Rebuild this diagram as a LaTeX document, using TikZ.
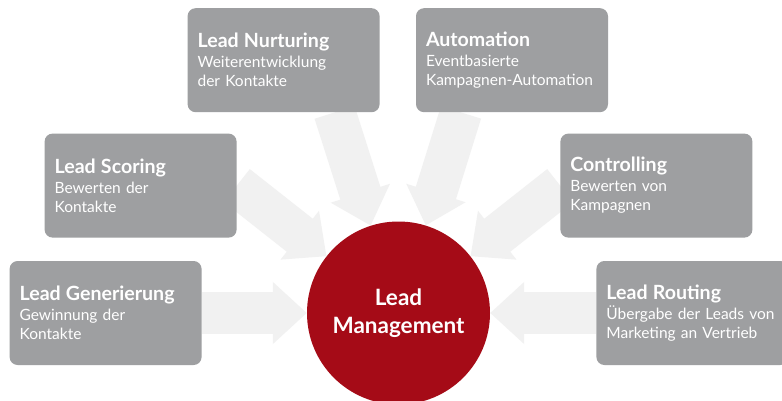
\documentclass[tikz,border=0pt]{standalone}
\usepackage{fontspec}
\setmainfont{Lato}
\usetikzlibrary{arrows.meta,positioning,backgrounds}

\definecolor{boxgray}{HTML}{9E9FA1}
\definecolor{arrowgray}{HTML}{F1F1F1}
\definecolor{leadred}{HTML}{A50B17}

\newcommand{\stagetitle}[1]{{\fontsize{19.6}{20}\selectfont\bfseries #1}}

\begin{document}
\begin{tikzpicture}[x=1pt,y=-1pt,
    stagebox/.style={rectangle,rounded corners=8pt,fill=boxgray,text=white,
      minimum width=192pt,minimum height=104pt,text width=172pt,inner xsep=10pt,
      align=left,font=\fontsize{15.5}{19}\selectfont},
    hub/.style={circle,fill=leadred,text=white,minimum size=183pt,align=center,
      font=\fontsize{22.5}{28}\selectfont\bfseries},
    flow/.style={arrowgray,line width=42pt,-{Triangle[width=60pt,length=34pt]}}]

  \useasboundingbox (0,0) rectangle (782,401);

  \node[hub] (lm) at (398.5,313) {Lead\\Management};

  \node[stagebox] (gen) [left=105pt of lm] {\stagetitle{Lead Generierung}\\[1pt]
    Gewinnung der\\Kontakte};
  \node[stagebox] (route) [right=106pt of lm] {\stagetitle{Lead Routing}\\[1pt]
    Übergabe der Leads von\\Marketing an Vertrieb};
  \node[stagebox] (score) [above=23pt of gen,xshift=35pt] {\stagetitle{Lead Scoring}\\[1pt]
    Bewerten der\\Kontakte};
  \node[stagebox] (ctrl) [above=23pt of route,xshift=-36pt] {\stagetitle{Controlling}\\[1pt]
    Bewerten von\\Kampagnen};
  \node[stagebox] (nurt) [above=21pt of score,xshift=143pt] {\stagetitle{Lead Nurturing}\\[1pt]
    Weiterentwicklung\\der Kontakte};
  \node[stagebox] (autom) [right=36pt of nurt] {\stagetitle{Automation}\\[1pt]
    Eventbasierte\\Kampagnen-Automation};

  \begin{scope}[on background layer]
    \fill[white] (0,0) rectangle (782,401);
    \draw[flow] (gen) -- (lm);
    \draw[flow] (route) -- (lm);
    \draw[flow] (score.east) -- (lm);
    \draw[flow] (ctrl.west) -- (lm);
    \draw[flow] ([xshift=51pt]nurt.south) -- (lm);
    \draw[flow] ([xshift=-51pt]autom.south) -- (lm);
  \end{scope}

\end{tikzpicture}
\end{document}
